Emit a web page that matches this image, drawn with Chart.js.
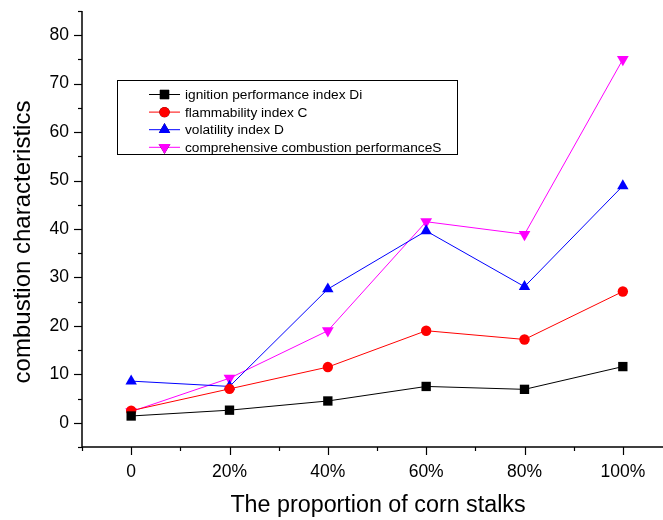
<!DOCTYPE html>
<html>
<head>
<meta charset="utf-8">
<script src="https://cdn.jsdelivr.net/npm/chart.js@4/dist/chart.umd.min.js"></script>
<style>
    html, body { margin: 0; padding: 0; background: #fff; overflow: hidden; }
    #wrap { width: 663px; height: 520px; overflow: hidden; }
</style>
</head>
<body>
<div id="wrap"><canvas id="chart" width="680" height="520"></canvas></div>
<script>
/* ============ DATOS ============ */

const categorias = ["0", "20%", "40%", "60%", "80%", "100%"];
const ignicionDi = [1.4, 2.6, 4.5, 7.5, 6.9, 11.6];
const inflamabilidadC = [2.5, 7.0, 11.5, 19.0, 17.2, 27.1];
const volatilidadD = [8.6, 7.5, 27.6, 39.6, 28.1, 48.9];
const combustionS = [2.3, 9.2, 19.0, 41.5, 38.9, 75.0];
const yTicks = [0, 10, 20, 30, 40, 50, 60, 70, 80];

const series = [
    { label: "ignition performance index Di", data: ignicionDi, color: "#000000", punto: "rect", radio: 6.6 },
    { label: "flammability index C", data: inflamabilidadC, color: "#FF0000", punto: "circle", radio: 5.2 },
    { label: "volatility index D", data: volatilidadD, color: "#0000FF", punto: "triangle", radio: 6.6 },
    { label: "comprehensive combustion performanceS", data: combustionS, color: "#FF00FF", punto: "triangle", radio: 6.8, rot: 180 }
];

const fuente = "Arial, 'Liberation Sans', sans-serif";

/* ============ PLUGINS ============ */

// ticks mayores y menores hacia afuera (estilo Origin) + titulos de ejes
const ticksPlugin = {
    id: "ticksOrigin",
    afterDraw(chart) {
        const ctx = chart.ctx;
        const x = chart.scales.x, y = chart.scales.y;
        const area = chart.chartArea;
        ctx.save();
        ctx.strokeStyle = "#000";
        ctx.lineWidth = 1.5;
        ctx.beginPath();
        ctx.moveTo(area.left, area.top);
        ctx.lineTo(area.left, area.bottom);
        ctx.lineTo(area.right, area.bottom);
        ctx.stroke();
        ctx.lineWidth = 1.2;
        for (let v = -5; v <= 85; v += 5) {
            const py = Math.round(y.getPixelForValue(v)) + 0.5;
            const largo = v % 10 === 0 ? 8 : 4;
            ctx.beginPath();
            ctx.moveTo(area.left, py);
            ctx.lineTo(area.left - largo, py);
            ctx.stroke();
        }
        for (let v = -0.5; v <= 5.5; v += 0.5) {
            const px = Math.round(x.getPixelForValue(v)) + 0.5;
            const largo = Number.isInteger(v) ? 8 : 4;
            ctx.beginPath();
            ctx.moveTo(px, area.bottom);
            ctx.lineTo(px, area.bottom + largo);
            ctx.stroke();
        }
        ctx.fillStyle = "#000";
        ctx.textAlign = "center";
        ctx.textBaseline = "middle";
        // titulo eje x
        ctx.font = "23.3px " + fuente;
        ctx.fillText("The proportion of corn stalks", 378, 506);
        // titulo eje y
        ctx.translate(23, 242);
        ctx.rotate(-Math.PI / 2);
        ctx.font = "24px " + fuente;
        ctx.fillText("combustion characteristics", 0, 0);
        ctx.restore();
    }
};

// leyenda en caja dentro del area
const leyendaPlugin = {
    id: "leyendaCaja",
    afterDraw(chart) {
        const ctx = chart.ctx;
        ctx.save();
        ctx.strokeStyle = "#000";
        ctx.lineWidth = 1;
        ctx.strokeRect(117.5, 80.5, 340, 74);
        ctx.font = "13.7px " + fuente;
        ctx.textBaseline = "middle";
        series.forEach((s, i) => {
            const yy = 94.5 + i * 17.6;
            ctx.strokeStyle = s.color;
            ctx.lineWidth = 1;
            ctx.beginPath();
            ctx.moveTo(149, yy);
            ctx.lineTo(180, yy);
            ctx.stroke();
            Chart.helpers.drawPoint(ctx, {
                pointStyle: s.punto, radius: s.radio, rotation: s.rot || 0, borderWidth: 0
            }, 164.5, yy);
            ctx.fillStyle = s.color;
            ctx.fill();
            ctx.fillStyle = "#000";
            ctx.fillText(s.label, 185, yy + 1);
        });
        ctx.restore();
    }
};

/* ============ GRAFICO ============ */

new Chart(document.getElementById("chart"), {
    type: "line",
    data: {
        datasets: series.map(s => ({
            label: s.label,
            data: s.data.map((v, i) => ({ x: i, y: v })),
            borderColor: s.color,
            backgroundColor: s.color,
            borderWidth: 1,
            tension: 0,
            pointStyle: s.punto,
            pointRadius: s.radio,
            pointRotation: s.rot || 0,
            pointBorderWidth: 0,
            pointBackgroundColor: s.color
        }))
    },
    options: {
        responsive: false,
        animation: false,
        layout: { padding: { top: 11, right: 8, left: 0, bottom: 0 } },
        plugins: { legend: { display: false }, tooltip: { enabled: false } },
        scales: {
            x: {
                type: "linear",
                min: -0.5,
                max: 5.5,
                afterFit: s => { s.height = 73; s.paddingLeft = 0; s.paddingRight = 0; },
                afterBuildTicks: s => { s.ticks = categorias.map((c, i) => ({ value: i })); },
                grid: { display: false, drawTicks: false },
                border: { display: false },
                ticks: {
                    padding: 15,
                    color: "#000",
                    font: { size: 17.5, family: fuente },
                    callback: v => categorias[v]
                }
            },
            y: {
                min: -5,
                max: 85,
                afterFit: s => { s.width = 82; s.paddingTop = 0; s.paddingBottom = 0; },
                afterBuildTicks: s => { s.ticks = yTicks.map(v => ({ value: v })); },
                grid: { display: false, drawTicks: false },
                border: { display: false },
                ticks: {
                    padding: 13,
                    color: "#000",
                    font: { size: 17.5, family: fuente }
                }
            }
        }
    },
    plugins: [ticksPlugin, leyendaPlugin]
});
</script>
</body>
</html>
